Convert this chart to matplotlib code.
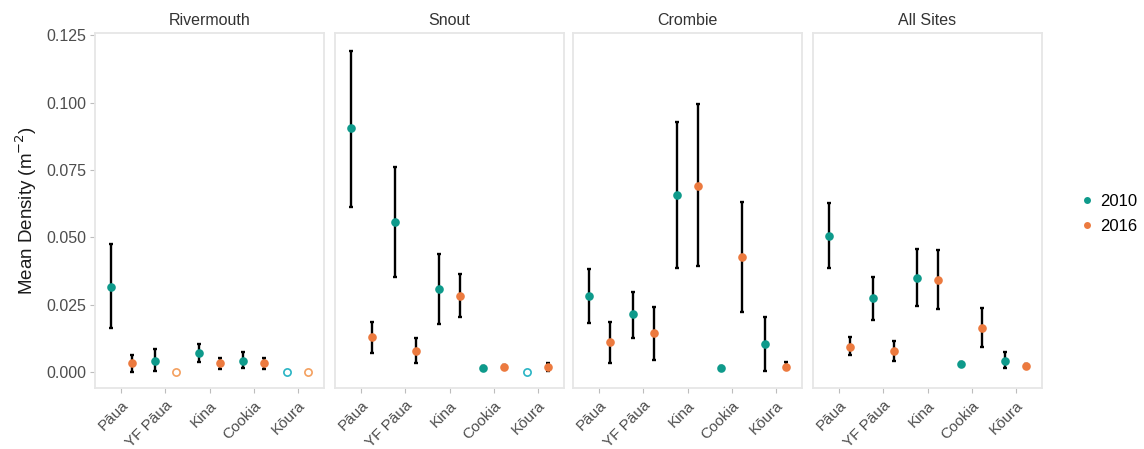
import matplotlib
matplotlib.use("Agg")
import matplotlib.pyplot as plt
from matplotlib.lines import Line2D
import numpy as np

plt.rcParams["font.family"] = ["Liberation Sans", "DejaVu Sans"]

sites = ["Rivermouth", "Snout", "Crombie", "All Sites"]
species = ["Pāua", "YF Pāua", "Kina", "Cookia", "Kōura"]
years = ["2010", "2016"]

# mean density and confidence bounds (m^-2), one list per site/year, species order as above
rivermouth_2010_mean = [0.0316, 0.0041, 0.0072, 0.0041, 0.0]
rivermouth_2010_low = [0.0162, 0.0004, 0.0036, 0.0014, 0.0]
rivermouth_2010_high = [0.0474, 0.0084, 0.0106, 0.0075, 0.0]
rivermouth_2016_mean = [0.0032, 0.0, 0.0035, 0.0032, 0.0]
rivermouth_2016_low = [0.0001, 0.0, 0.0011, 0.0011, 0.0]
rivermouth_2016_high = [0.0063, 0.0, 0.0052, 0.0053, 0.0]

snout_2010_mean = [0.0904, 0.0555, 0.0308, 0.0016, 0.0]
snout_2010_low = [0.0613, 0.0354, 0.0178, 0.0010, 0.0]
snout_2010_high = [0.1192, 0.0762, 0.0438, 0.0022, 0.0]
snout_2016_mean = [0.0129, 0.0079, 0.0283, 0.0020, 0.0020]
snout_2016_low = [0.0069, 0.0032, 0.0205, 0.0012, 0.0004]
snout_2016_high = [0.0184, 0.0125, 0.0363, 0.0028, 0.0035]

crombie_2010_mean = [0.0282, 0.0214, 0.0657, 0.0016, 0.0104]
crombie_2010_low = [0.0183, 0.0125, 0.0385, 0.0010, 0.0004]
crombie_2010_high = [0.0381, 0.0296, 0.0928, 0.0022, 0.0203]
crombie_2016_mean = [0.0112, 0.0144, 0.0691, 0.0428, 0.0020]
crombie_2016_low = [0.0035, 0.0045, 0.0393, 0.0224, 0.0010]
crombie_2016_high = [0.0187, 0.0242, 0.0993, 0.0631, 0.0038]

allsites_2010_mean = [0.0506, 0.0276, 0.0350, 0.0030, 0.0041]
allsites_2010_low = [0.0387, 0.0193, 0.0245, 0.0022, 0.0014]
allsites_2010_high = [0.0628, 0.0354, 0.0456, 0.0038, 0.0075]
allsites_2016_mean = [0.0094, 0.0079, 0.0341, 0.0162, 0.0022]
allsites_2016_low = [0.0063, 0.0042, 0.0233, 0.0092, 0.0015]
allsites_2016_high = [0.0131, 0.0116, 0.0453, 0.0236, 0.0030]

y_ticks = [0.000, 0.025, 0.050, 0.075, 0.100, 0.125]

data = {
    "Rivermouth": {
        "2010": (rivermouth_2010_mean, rivermouth_2010_low, rivermouth_2010_high),
        "2016": (rivermouth_2016_mean, rivermouth_2016_low, rivermouth_2016_high),
    },
    "Snout": {
        "2010": (snout_2010_mean, snout_2010_low, snout_2010_high),
        "2016": (snout_2016_mean, snout_2016_low, snout_2016_high),
    },
    "Crombie": {
        "2010": (crombie_2010_mean, crombie_2010_low, crombie_2010_high),
        "2016": (crombie_2016_mean, crombie_2016_low, crombie_2016_high),
    },
    "All Sites": {
        "2010": (allsites_2010_mean, allsites_2010_low, allsites_2010_high),
        "2016": (allsites_2016_mean, allsites_2016_low, allsites_2016_high),
    },
}

colors = {"2010": "#0E9A8B", "2016": "#EC7A3F"}
zero_colors = {"2010": "#2AB4C4", "2016": "#F4A05F"}
offsets = {"2010": -0.23, "2016": 0.23}
text_grey = "#4D4D4D"
border_grey = "#E6E6E6"

W, H = 1144, 449
fig = plt.figure(figsize=(W / 100, H / 100), dpi=100)

panel_left = [95, 335, 573, 813]
panel_w = 229
top_px, bottom_px = 33, 388

x = np.arange(1, len(species) + 1)

for i, site in enumerate(sites):
    ax = fig.add_axes([panel_left[i] / W, 1 - bottom_px / H,
                       panel_w / W, (bottom_px - top_px) / H])
    for yr in years:
        mean, low, high = data[site][yr]
        mean = np.array(mean)
        low = np.array(low)
        high = np.array(high)
        xs = x + offsets[yr]
        nz = mean > 0
        ax.errorbar(xs[nz], mean[nz],
                    yerr=[mean[nz] - low[nz], high[nz] - mean[nz]],
                    fmt="none", ecolor="black", elinewidth=1.7,
                    capsize=1.7, capthick=1.7, zorder=2)
        ax.plot(xs[nz], mean[nz], "o", color=colors[yr], markersize=6.2,
                markeredgewidth=0, zorder=3)
        ax.plot(xs[~nz], mean[~nz], "o", markerfacecolor="white",
                markeredgecolor=zero_colors[yr], markersize=5.2,
                markeredgewidth=1.2, zorder=3)

    ax.set_xlim(0.4, 5.6)
    ax.set_ylim(-0.0059, 0.1258)
    ax.set_xticks(x)
    ax.set_xticklabels(species, rotation=45, ha="right",
                       rotation_mode="anchor", fontsize=11, color=text_grey)
    ax.set_yticks(y_ticks)
    if i == 0:
        ax.set_yticklabels([f"{v:.3f}" for v in y_ticks],
                           fontsize=11.5, color=text_grey)
        ax.set_ylabel("Mean Density (m$^{-2}$)", fontsize=13.5,
                      color="#1A1A1A", labelpad=5)
    else:
        ax.tick_params(axis="y", left=False, labelleft=False)
    ax.tick_params(axis="x", color="#BDBDBD", length=3.5, width=0.8, pad=4)
    ax.tick_params(axis="y", color="#BDBDBD", length=3.5, width=0.8, pad=3)
    for sp in ax.spines.values():
        sp.set_color(border_grey)
        sp.set_linewidth(1.3)
    ax.set_title(site, fontsize=11.5, color="#333333", pad=6)

handles = [Line2D([], [], marker="o", linestyle="none", color=colors[yr],
                  markersize=5, markeredgewidth=0) for yr in years]
fig.legend(handles, years, loc="center left",
           bbox_to_anchor=(1062 / W, 1 - 214 / H), frameon=False,
           fontsize=12, handletextpad=0.2, labelspacing=0.6,
           handlelength=1.2)

fig.savefig("out.png", dpi=100)
